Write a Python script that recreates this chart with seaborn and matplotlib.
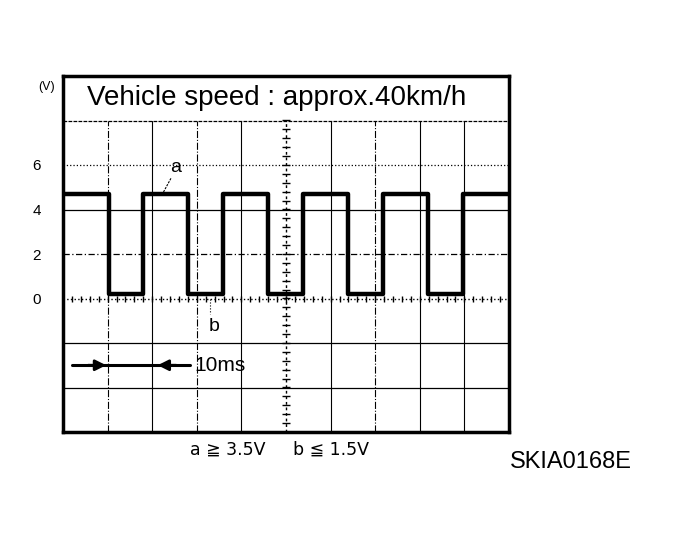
import numpy as np
import pandas as pd
import seaborn as sns
import matplotlib.pyplot as plt

# square wave (time in ms, 10 ms/div, 2 V/div)
edge_times = [0, 10.3, 17.9, 28.0, 35.9, 46.0, 53.8, 63.9, 71.7, 81.8, 89.7, 100]
levels = [4.7, 0.2, 4.7, 0.2, 4.7, 0.2, 4.7, 0.2, 4.7, 0.2, 4.7, 4.7]
volt_ticks = [0, 2, 4, 6]
volt_labels = ["0", "2", "4", "6"]
title = "Vehicle speed : approx.40km/h"
note = "a \u2267 3.5V     b \u2266 1.5V"
fig_code = "SKIA0168E"

df = pd.DataFrame({"t": edge_times, "v": levels})

sns.set_style("white")
plt.rcParams["font.family"] = ["Liberation Sans", "DejaVu Sans"]
plt.rcParams["text.color"] = "black"
plt.rcParams["ytick.color"] = "black"

fig = plt.figure(figsize=(6.79, 5.49), dpi=100)
ax = fig.add_axes([63 / 679, 117 / 549, 446 / 679, 356 / 549])

# grid (verticals stop under the title strip)
top = 14 / 16
for x in [10, 20, 30, 40, 60, 70, 80, 90]:
    ls = "-." if x in (10, 30, 70) else "-"
    ax.axvline(x, ymax=top, color="black", lw=0.8, ls=ls, zorder=1)
ax.axvline(50, ymax=top, color="black", lw=1.0, ls=(0, (2, 2)), zorder=1)
h_styles = {8: (0, (3, 1)), 6: ":", 4: "-", 2: (0, (5, 2, 1, 2)), -2: "-", -4: "-"}
for y, ls in h_styles.items():
    ax.axhline(y, color="black", lw=0.9, ls=ls, zorder=1)
ax.axhline(0, color="black", lw=1.0, ls=":", zorder=1)

# centre graticule ticks
minor = np.arange(0, 100.01, 2)
ax.plot(minor, np.zeros_like(minor), ls="none", marker="|", ms=5, mew=1, color="black")
minor_v = np.arange(-6, 8.01, 0.4)
ax.plot(np.full_like(minor_v, 50), minor_v, ls="none", marker="_", ms=6, mew=1, color="black")

# trace
sns.lineplot(data=df, x="t", y="v", drawstyle="steps-post", color="black",
             lw=3.2, ax=ax, sort=False, estimator=None, zorder=3)

ax.set_xlim(0, 100)
ax.set_ylim(-6, 10)
ax.set_xlabel("")
ax.set_ylabel("")
ax.set_xticks([])
ax.set_yticks(volt_ticks)
ax.set_yticklabels(volt_labels, fontsize=11)
ax.tick_params(axis="y", length=0, pad=16)
for s in ax.spines.values():
    s.set_color("black")
    s.set_linewidth(2.5)

ax.text(-1.8, 9.5, "(V)", fontsize=9, ha="right", va="center")
ax.text(5.3, 9.0, title, fontsize=20, ha="left", va="center")

# labels a / b
ax.text(25.3, 5.9, "a", fontsize=14, ha="center", va="center")
ax.plot([24.2, 22.3], [5.4, 4.7], color="black", lw=0.8, ls=(0, (2, 1)))
ax.text(33.8, -1.25, "b", fontsize=14, ha="center", va="center")
ax.plot([33.0, 33.0], [0, -0.7], color="black", lw=0.8, ls=":")

# 10 ms marker
ax.plot([2.0, 28.5], [-3.0, -3.0], color="black", lw=2.2)
ax.annotate("", xy=(10.3, -3.0), xytext=(5.0, -3.0),
            arrowprops=dict(arrowstyle="-|>", color="black", lw=2, mutation_scale=16))
ax.annotate("", xy=(20.6, -3.0), xytext=(26.0, -3.0),
            arrowprops=dict(arrowstyle="-|>", color="black", lw=2, mutation_scale=16))
ax.text(29.5, -3.0, "10ms", fontsize=15, ha="left", va="center")

fig.text(190 / 679, 1 - 450 / 549, note, fontsize=12.5, ha="left", va="center",
         family=["DejaVu Sans"])
fig.text(510 / 679, 1 - 462 / 549, fig_code, fontsize=17, ha="left", va="center")

fig.savefig("out.png", dpi=100)
